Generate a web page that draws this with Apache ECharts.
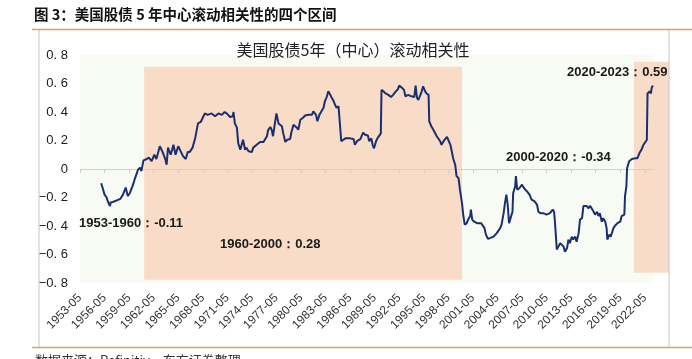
<!DOCTYPE html>
<html><head><meta charset="utf-8">
<script src="https://cdn.jsdelivr.net/npm/echarts@6/dist/echarts.min.js"></script>
<style>html,body{margin:0;padding:0;background:#fff}#c{width:692px;height:359px}</style>
</head><body><div id="c"></div>
<script>
// ---- data ----
const sampleMonths = [
'1955-12','1956-02','1956-05','1956-08','1956-10','1957-01','1957-02','1957-06','1957-11','1958-04',
'1958-08','1958-12','1959-03','1959-06','1959-10','1960-01','1960-03','1960-06','1960-09','1960-11',
'1961-02','1961-07','1961-10','1962-02','1962-06','1962-09','1963-02','1963-06','1963-10','1963-12',
'1964-02','1964-06','1964-10','1965-01','1965-05','1965-09','1965-12','1966-04','1966-07','1966-10',
'1967-02','1967-06','1967-08','1967-10','1968-02','1968-06','1968-08','1968-12','1969-06','1969-11',
'1970-04','1970-09','1971-01','1971-04','1971-09','1972-01','1972-02','1972-04','1972-07','1972-09',
'1972-12','1973-02','1973-04','1973-07','1973-09','1973-12','1974-02','1974-05','1974-07','1974-12',
'1975-05','1975-10','1975-12','1976-03','1976-05','1976-08','1976-10','1976-12','1977-03','1977-05',
'1977-08','1977-10','1978-01','1978-03','1978-06','1978-09','1979-01','1979-03','1979-06','1979-08',
'1979-11','1980-01','1980-04','1980-08','1980-11','1981-04','1981-09','1981-11','1982-03','1982-05',
'1982-08','1982-11','1983-02','1983-04','1983-07','1983-09','1983-12','1984-02','1984-04','1984-07',
'1984-09','1984-12','1985-02','1985-04','1985-06','1985-10','1985-12','1986-05','1986-10','1986-12',
'1987-03','1987-08','1987-12','1988-03','1988-07','1988-09','1988-12','1989-02','1989-04','1989-07',
'1989-09','1989-11','1990-02','1990-03','1990-06','1990-09','1991-01','1991-05','1991-08','1991-12',
'1992-03','1992-05','1992-09','1992-12','1993-02','1993-06','1993-11','1994-03','1994-05','1994-07',
'1994-09','1994-12','1995-02','1995-04','1995-07','1995-09','1995-12','1996-01','1996-04','1996-07',
'1996-09','1996-12','1997-02','1997-05','1997-07','1997-10','1997-12','1998-03','1998-05','1998-08',
'1998-10','1998-12','1999-03','1999-05','1999-08','1999-10','2000-01','2000-03','2000-05','2000-08',
'2000-10','2001-01','2001-02','2001-04','2001-07','2001-11','2002-01','2002-05','2002-07','2002-10',
'2002-12','2003-03','2003-06','2003-11','2004-04','2004-09','2004-11','2005-02','2005-04','2005-06',
'2005-08','2005-10','2005-12','2006-03','2006-04','2006-07','2006-08','2006-10','2007-01','2007-05',
'2007-08','2007-12','2008-04','2008-07','2008-11','2009-03','2009-05','2009-08','2009-12','2010-05',
'2010-10','2011-02','2011-04','2011-05','2011-08','2011-10','2012-01','2012-03','2012-06','2012-08',
'2012-11','2013-01','2013-03','2013-06','2013-08','2013-11','2014-01','2014-04','2014-06','2014-09',
'2014-11','2015-01','2015-04','2015-06','2015-09','2015-11','2016-02','2016-04','2016-07','2016-09',
'2016-11','2017-02','2017-04','2017-07','2017-09','2017-10','2018-01','2018-03','2018-07','2018-09',
'2019-01','2019-05','2019-07','2019-11','2019-12','2020-02','2020-03','2020-06','2020-10','2021-03',
'2021-06','2021-09','2021-12','2022-03','2022-06','2022-08','2022-09','2022-12','2023-02','2023-03',
'2023-05'];
const corrValues = [
-0.10,-0.13,-0.18,-0.20,-0.23,-0.26,-0.235,-0.23,-0.22,-0.21,
-0.18,-0.13,-0.19,-0.17,-0.12,-0.075,-0.087,-0.005,0.01,-0.015,
0.06,0.07,0.08,0.055,0.10,0.07,0.16,0.12,0.07,0.03,
0.15,0.10,0.17,0.10,0.16,0.12,0.09,0.07,0.12,0.12,
0.15,0.22,0.21,0.32,0.33,0.37,0.39,0.38,0.39,0.37,
0.39,0.38,0.40,0.39,0.365,0.37,0.40,0.32,0.29,0.18,
0.135,0.17,0.205,0.135,0.15,0.125,0.135,0.12,0.15,0.17,
0.19,0.19,0.18,0.23,0.275,0.295,0.275,0.23,0.33,0.39,
0.32,0.31,0.30,0.25,0.19,0.205,0.21,0.26,0.31,0.30,
0.29,0.275,0.345,0.36,0.375,0.38,0.38,0.405,0.38,0.335,
0.38,0.405,0.43,0.475,0.51,0.545,0.52,0.50,0.485,0.45,
0.43,0.44,0.44,0.195,0.205,0.215,0.21,0.215,0.21,0.17,
0.195,0.21,0.255,0.24,0.235,0.195,0.215,0.17,0.145,0.195,
0.215,0.205,0.25,0.555,0.545,0.53,0.52,0.505,0.52,0.545,
0.56,0.585,0.57,0.555,0.51,0.52,0.51,0.505,0.585,0.50,
0.485,0.52,0.545,0.58,0.545,0.53,0.52,0.335,0.30,0.275,
0.265,0.23,0.24,0.195,0.17,0.195,0.205,0.225,0.23,0.17,
0.125,0.075,0.03,-0.05,-0.065,-0.145,-0.24,-0.33,-0.39,-0.38,
-0.355,-0.33,-0.285,-0.355,-0.37,-0.38,-0.37,-0.38,-0.375,-0.415,
-0.46,-0.49,-0.485,-0.475,-0.45,-0.415,-0.39,-0.31,-0.24,-0.18,
-0.25,-0.38,-0.37,-0.30,-0.17,-0.12,-0.05,-0.145,-0.135,-0.11,
-0.135,-0.155,-0.18,-0.215,-0.225,-0.25,-0.30,-0.31,-0.31,-0.32,
-0.31,-0.285,-0.30,-0.355,-0.565,-0.555,-0.52,-0.53,-0.545,-0.58,
-0.555,-0.495,-0.52,-0.475,-0.495,-0.475,-0.51,-0.45,-0.355,-0.345,
-0.26,-0.25,-0.26,-0.275,-0.26,-0.26,-0.30,-0.32,-0.30,-0.33,
-0.31,-0.37,-0.345,-0.37,-0.415,-0.495,-0.46,-0.475,-0.415,-0.40,
-0.38,-0.37,-0.33,-0.32,-0.19,-0.12,0.005,0.055,0.07,0.075,
0.075,0.11,0.135,0.17,0.19,0.205,0.53,0.545,0.53,0.57,
0.585];
const firstMonth = [1953, 5];
const lastMonth = [2023, 5];
const yMin = -0.8, yMax = 0.8, yStep = 0.2;
const periodBands = [
  {from: '1961-03', to: '2000-01', top: 0.718, bottom: -0.777},
  {from: '2021-01', to: '2023-05', top: 0.753, bottom: -0.728}
];
const periodLabels = ['1953-1960：-0.11', '1960-2000：0.28', '2000-2020：-0.34', '2020-2023：0.59'];
const captionText = '图 3：美国股债 5 年中心滚动相关性的四个区间';
const chartTitle = '美国股债5年（中心）滚动相关性';
const sourceText = '数据来源：Refinitiv，东方证券整理';

// ---- build categories ----
const months = [];
{
  let y = firstMonth[0], m = firstMonth[1];
  while (y < lastMonth[0] || (y === lastMonth[0] && m <= lastMonth[1])) {
    months.push(y + '-' + String(m).padStart(2, '0'));
    m++; if (m > 12) { m = 1; y++; }
  }
}
const lineData = sampleMonths.map((mo, i) => [months.indexOf(mo), corrValues[i]]);

function fmtY(v) {
  const r = Math.round(v * 10) / 10;
  if (r === 0) return '0';
  return (r < 0 ? '−' : '') + Math.abs(r).toFixed(1).replace('.', '. ');
}

const BAND = '#f8dcc8';
const LINE = '#1a2f6e';
const AXIS = '#d0d0d0';

const chart = echarts.init(document.getElementById('c'), null, {renderer: 'canvas'});
const option = {
  animation: false,
  backgroundColor: '#ffffff',
  grid: {left: 80, right: 39, top: 55, bottom: 76, show: true, backgroundColor: '#f8faf4', borderWidth: 0, z: 0},
  xAxis: [
    {
      type: 'category', data: months, boundaryGap: false, position: 'bottom', z: 2,
      axisLine: {show: true, onZero: true, lineStyle: {color: AXIS, width: 1}},
      axisTick: {show: true, interval: 35, length: 4, lineStyle: {color: AXIS}},
      axisLabel: {show: false}, splitLine: {show: false}
    },
    {
      type: 'category', data: months, boundaryGap: false, position: 'bottom',
      axisLine: {show: false, onZero: false}, axisTick: {show: false}, splitLine: {show: false},
      axisLabel: {show: true, interval: 35, rotate: 45, margin: 13, fontSize: 12, color: '#333',
        fontFamily: 'Liberation Sans, Arial, sans-serif'}
    }
  ],
  yAxis: {
    type: 'value', min: yMin, max: yMax, interval: yStep,
    axisLine: {show: false}, axisTick: {show: false}, splitLine: {show: false},
    axisLabel: {formatter: fmtY, fontSize: 13, color: '#1a1a1a', margin: 12,
      fontFamily: 'Liberation Sans, Arial, sans-serif'}
  },
  series: [
    {
      type: 'line', data: [], z: 1, xAxisIndex: 0, yAxisIndex: 0,
      markArea: {silent: true, itemStyle: {color: BAND}, data: [[
        {xAxis: months.indexOf(periodBands[0].from), yAxis: periodBands[0].top},
        {xAxis: months.indexOf(periodBands[0].to), yAxis: periodBands[0].bottom}
      ]]}
    },
    {
      type: 'line', data: lineData, z: 3, xAxisIndex: 0, yAxisIndex: 0,
      showSymbol: false, symbol: 'none', smooth: false,
      lineStyle: {color: LINE, width: 2}
    }
  ]
};
chart.setOption(option);

const rb = periodBands[1];
const p0 = chart.convertToPixel({xAxisIndex: 0, yAxisIndex: 0}, [months.indexOf(rb.from), rb.top]);
const p1 = chart.convertToPixel({xAxisIndex: 0, yAxisIndex: 0}, [months.indexOf(rb.to), rb.bottom]);
const lblFont = 'bold 13px "Liberation Sans", Arial, sans-serif';
chart.setOption({
  graphic: [
    {type: 'rect', z: 1, silent: true,
      shape: {x: p0[0], y: p0[1], width: (p1[0] + 16) - p0[0], height: p1[1] - p0[1]},
      style: {fill: BAND}},
    // frame
    {type: 'line', z: 5, shape: {x1: 39, y1: 29, x2: 39, y2: 347}, style: {stroke: '#c4c4c4', lineWidth: 1}},
    {type: 'line', z: 5, shape: {x1: 669, y1: 29, x2: 669, y2: 347}, style: {stroke: '#c4c4c4', lineWidth: 1}},
    {type: 'line', z: 6, shape: {x1: 32, y1: 29.5, x2: 692, y2: 29.5}, style: {stroke: '#d6a56a', lineWidth: 1.5}},
    {type: 'line', z: 6, shape: {x1: 32, y1: 347.5, x2: 692, y2: 347.5}, style: {stroke: '#d6a56a', lineWidth: 1.5}},
    // texts
    {type: 'text', z: 10, left: 34, top: 7, style: {text: captionText, fill: '#111',
      font: 'bold 14.5px "Noto Sans CJK SC", sans-serif'}},
    {type: 'text', z: 10, x: 353, y: 50, style: {text: chartTitle, fill: '#222', align: 'center', verticalAlign: 'middle',
      font: '16px "Noto Sans CJK SC", sans-serif'}},
    {type: 'text', z: 10, x: 79, y: 223, style: {text: periodLabels[0], fill: '#1a1a1a', verticalAlign: 'middle', font: lblFont}},
    {type: 'text', z: 10, x: 220, y: 244, style: {text: periodLabels[1], fill: '#1a1a1a', verticalAlign: 'middle', font: lblFont}},
    {type: 'text', z: 10, x: 506, y: 157, style: {text: periodLabels[2], fill: '#1a1a1a', verticalAlign: 'middle', font: lblFont}},
    {type: 'text', z: 10, x: 567, y: 72, style: {text: periodLabels[3], fill: '#1a1a1a', verticalAlign: 'middle', font: lblFont}},
    {type: 'text', z: 10, x: 35, y: 354, style: {text: sourceText, fill: '#333', verticalAlign: 'top',
      font: '13px "Noto Sans CJK SC", sans-serif'}}
  ]
});
</script>
</body></html>
